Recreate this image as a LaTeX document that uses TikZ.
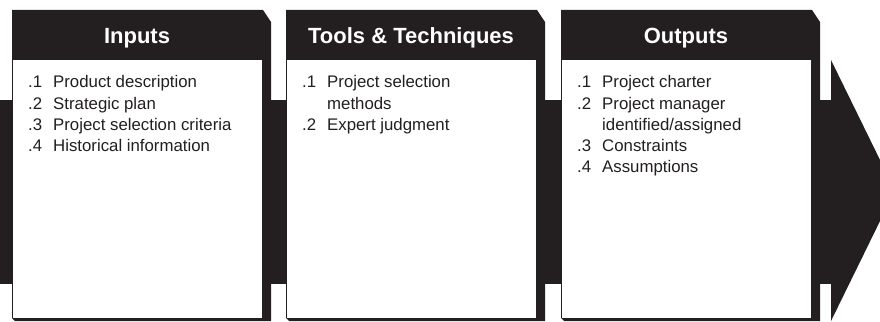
\documentclass[tikz,border=0pt]{standalone}
\usepackage{fontspec}
\setmainfont{Liberation Sans}
\usepackage{xcolor}
\usepackage{tikz}
\definecolor{PMIBlack}{HTML}{231F20}

\tikzset{
	boxtitle/.style={white, anchor=base, inner sep=0pt, font=\fontsize{22}{26}\selectfont\bfseries},
	boxlist/.style={PMIBlack, anchor=base west, inner sep=0pt, font=\fontsize{16.8}{21}\selectfont}
}

\begin{document}
\begin{tikzpicture}[x=1pt, y=-1pt]
			\useasboundingbox (0,0) rectangle (880,321);
			\clip (0,0) rectangle (880,321);

			% process arrow behind the boxes
			\fill[PMIBlack] (0,100) rectangle (832,284);
			\fill[PMIBlack] (831,60) -- (895,190.5) -- (831,321) -- cycle;

			% boxes
			\newcommand\processbox[3]{%
				\fill[PMIBlack] (#1,10) -- ++(251,0) -- ++(8,12) -- ++(0,299) -- ++(-256,0) -- ++(-3,-3) -- cycle;
				\fill[white] (#1,60) ++(1.4,0) rectangle ++(248.6,257.5);
				\node[boxtitle] (#2) at (#1+125,44) {#3};
			}

			\foreach \x/\name/\title in {12/inputs/Inputs, 286/tools/Tools \& Techniques, 561/outputs/Outputs}{
				\processbox{\x}{\name}{\title};
			}

			% lists
			\node[boxlist] (inputslist) at (28,88) {\begin{tabular}[t]{@{}p{25pt}@{}l@{}}
				.1 & Product description\\
				.2 & Strategic plan\\
				.3 & Project selection criteria\\
				.4 & Historical information
			\end{tabular}};
			\node[boxlist] (toolslist) at (302,88) {\begin{tabular}[t]{@{}p{25pt}@{}l@{}}
				.1 & Project selection\\
				   & methods\\
				.2 & Expert judgment
			\end{tabular}};
			\node[boxlist] (outputslist) at (577,88) {\begin{tabular}[t]{@{}p{25pt}@{}l@{}}
				.1 & Project charter\\
				.2 & Project manager\\
				   & identified/assigned\\
				.3 & Constraints\\
				.4 & Assumptions
			\end{tabular}};

		\end{tikzpicture}
\end{document}
